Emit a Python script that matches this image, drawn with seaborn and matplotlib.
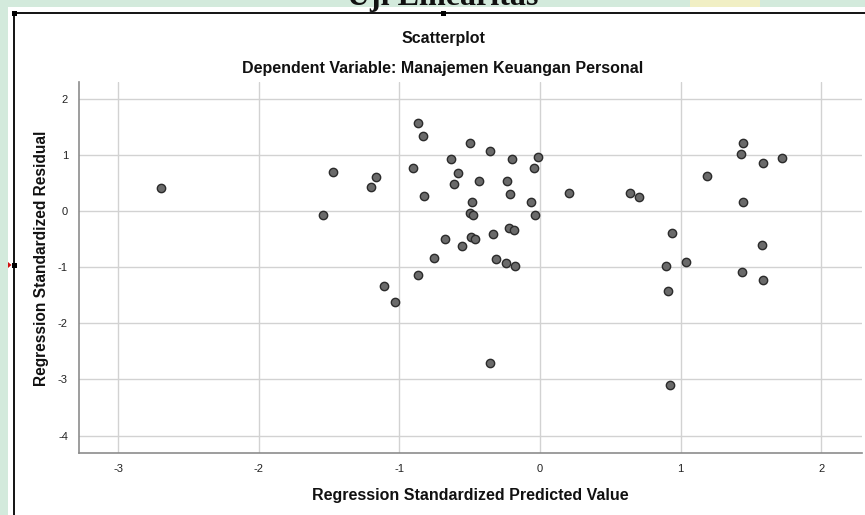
import numpy as np
import pandas as pd
import matplotlib
matplotlib.use("Agg")
import matplotlib.pyplot as plt
import seaborn as sns
from matplotlib.patches import Rectangle, Polygon
from matplotlib.lines import Line2D

# Data
pred = [-0.866, -0.832, -0.500, -0.353, -0.631, -0.199, -0.014, -0.045, -0.901, -1.472,
        -1.166, -1.200, -0.585, -0.609, -0.434, -0.232, -0.211, 0.209, -0.823, -0.486,
        -0.066, -1.541, -0.500, -0.479, -0.033, -0.223, -0.187, -0.332, -0.673, -0.491,
        -0.465, -0.553, -0.756, -0.311, -0.242, -0.180, -0.868, -1.110, -1.029, -0.353,
        1.446, 1.427, 1.589, 1.723, 1.190, 0.638, 0.706, 1.446, 0.937, 1.581,
        0.896, 1.038, 1.437, 1.589, 0.913, 0.925, -2.695]
resid = [1.57, 1.33, 1.22, 1.075, 0.927, 0.927, 0.957, 0.772, 0.766, 0.695,
         0.606, 0.428, 0.677, 0.487, 0.529, 0.540, 0.308, 0.315, 0.267, 0.160,
         0.166, -0.077, -0.041, -0.065, -0.077, -0.309, -0.345, -0.416, -0.500, -0.469,
         -0.493, -0.618, -0.844, -0.856, -0.921, -0.980, -1.147, -1.330, -1.620, -2.700,
         1.210, 1.020, 0.861, 0.939, 0.618, 0.321, 0.250, 0.160, -0.392, -0.600,
         -0.980, -0.909, -1.087, -1.235, -1.420, -3.107, 0.410]
x_ticks = [-3, -2, -1, 0, 1, 2]
y_ticks = [2, 1, 0, -1, -2, -3, -4]

title = "Scatterplot"
subtitle = "Dependent Variable: Manajemen Keuangan Personal"
xlabel = "Regression Standardized Predicted Value"
ylabel = "Regression Standardized Residual"
heading = "Uji Linearitas"

df = pd.DataFrame({"pred": pred, "resid": resid})

sns.set_style("white")
plt.rcParams["font.family"] = ["Liberation Sans", "DejaVu Sans"]

W, H = 865, 515
fig = plt.figure(figsize=(W / 100, H / 100), dpi=100)
fig.patch.set_facecolor("#d3eadc")


def fx(px):
    return px / W


def fy(py):
    return 1 - py / H


# Screenshot surroundings: watermark tint, white page, selection frame
fig.patches.append(Rectangle((fx(690), fy(7)), fx(70), 7 / H, transform=fig.transFigure,
                             facecolor="#f1efc4", edgecolor="none", zorder=-3))
fig.patches.append(Rectangle((fx(8), 0), 1, fy(7), transform=fig.transFigure,
                             facecolor="white", edgecolor="none", zorder=-3))
fig.text(fx(443), fy(5), heading, ha="center", va="baseline",
         fontsize=23, fontweight="bold", family=["Liberation Serif", "DejaVu Serif"],
         color="#111111", zorder=-2)
fig.patches.append(Rectangle((fx(14), 0), 1, fy(13), transform=fig.transFigure,
                             facecolor="white", edgecolor="none", zorder=-1.5))
fig.lines.append(Line2D([fx(14), 1], [fy(13), fy(13)], transform=fig.transFigure,
                        color="black", lw=1.3, zorder=2))
fig.lines.append(Line2D([fx(14), fx(14)], [0, fy(13)], transform=fig.transFigure,
                        color="black", lw=1.3, zorder=2))
for (px, py) in [(14, 13), (443, 13), (14, 265)]:
    fig.patches.append(Rectangle((fx(px - 2.5), fy(py + 2.5)), 5 / W, 5 / H,
                                 transform=fig.transFigure, facecolor="black",
                                 edgecolor="none", zorder=3))
fig.patches.append(Polygon([(fx(8), fy(262)), (fx(8), fy(268)), (fx(11.5), fy(265))],
                           closed=True, transform=fig.transFigure, facecolor="#d01010",
                           edgecolor="none", zorder=3))

ax = fig.add_axes([fx(79), fy(453), (862 - 79) / W, (453 - 82) / H])
ax.set_facecolor("white")
ax.set_zorder(1)

sns.scatterplot(data=df, x="pred", y="resid", ax=ax, s=36, color="#6a6a6a",
                edgecolor="#2b2b2b", linewidth=1.0, zorder=3, legend=False)

ax.set_xlim(-3.279, 2.29)
ax.set_ylim(-4.31, 2.30)
ax.set_xticks(x_ticks)
ax.set_yticks(y_ticks)
ax.set_xticklabels([str(t) for t in x_ticks])
ax.set_yticklabels([str(t) for t in y_ticks])
ax.grid(True, color="#d2d2d2", lw=1.0, zorder=0)
ax.set_axisbelow(True)
ax.tick_params(axis="both", length=0, labelsize=8, colors="#222222", pad=8)
for side in ["top", "right"]:
    ax.spines[side].set_visible(False)
for side in ["left", "bottom"]:
    ax.spines[side].set_color("#8c8c8c")
    ax.spines[side].set_linewidth(1.2)

ax.set_xlabel(xlabel, fontsize=11.5, fontweight="bold", color="#111111", labelpad=10)
ax.set_ylabel(ylabel, fontsize=11.2, fontweight="bold", color="#111111")
ax.yaxis.set_label_coords((49 - 79) / 783, (453 - 258.5) / 371)

fig.text(fx(443), fy(39), title, ha="center", va="center", fontsize=11.5,
         fontweight="bold", color="#111111")
fig.text(fx(443), fy(68), subtitle, ha="center", va="center", fontsize=11.5,
         fontweight="bold", color="#111111")

fig.savefig("out.png", dpi=100, facecolor=fig.get_facecolor())
